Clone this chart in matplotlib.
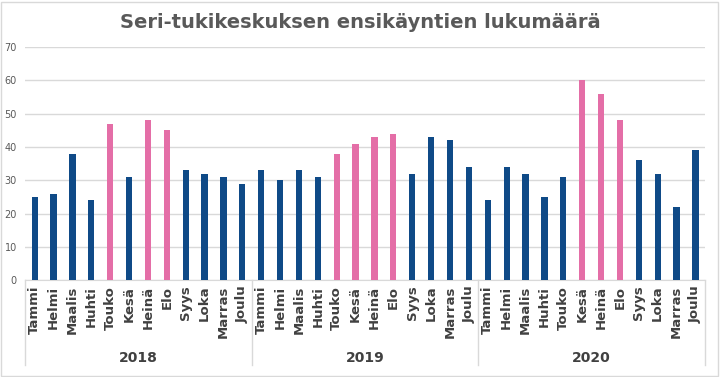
import matplotlib.pyplot as plt
from matplotlib.patches import Rectangle

# Data
months = ["Tammi", "Helmi", "Maalis", "Huhti", "Touko", "Kesä",
          "Heinä", "Elo", "Syys", "Loka", "Marras", "Joulu"]
years = ["2018", "2019", "2020"]
v2018 = [25, 26, 38, 24, 47, 31, 48, 45, 33, 32, 31, 29]
v2019 = [33, 30, 33, 31, 38, 41, 43, 44, 32, 43, 42, 34]
v2020 = [24, 34, 32, 25, 31, 60, 56, 48, 36, 32, 22, 39]
# months highlighted in pink per year
pink2018 = ["Touko", "Heinä", "Elo"]
pink2019 = ["Touko", "Kesä", "Heinä", "Elo"]
pink2020 = ["Kesä", "Heinä", "Elo"]

BLUE = "#0f4a87"
PINK = "#e46ea7"
GRID = "#d9d9d9"
TXT = "#595959"

values = v2018 + v2019 + v2020
pinks = [pink2018, pink2019, pink2020]
colors = []
for p in pinks:
    colors += [PINK if m in p else BLUE for m in months]

fig = plt.figure(figsize=(7.2, 3.77), dpi=100)
ax = fig.add_axes([0.035, 0.257, 0.944, 0.618])

x = list(range(len(values)))
ax.bar(x, values, width=0.33, color=colors, zorder=3)

ax.set_xlim(-0.5, len(values) - 0.5)
ax.set_ylim(0, 70)
ax.set_yticks(range(0, 71, 10))
ax.yaxis.grid(True, color=GRID, linewidth=1, zorder=0)
ax.tick_params(axis="y", length=0, labelsize=7, labelcolor=TXT, pad=6)

ax.set_xticks(x)
ax.set_xticklabels(months * 3, rotation=90, fontsize=9.5, fontweight="bold",
                   color="#404040")
ax.tick_params(axis="x", length=0, pad=4)

for s in ["top", "right", "left"]:
    ax.spines[s].set_visible(False)
ax.spines["bottom"].set_color(GRID)

# group separators and year labels under the axis
tr = ax.get_xaxis_transform()
for b in [-0.5, 11.5, 23.5, 35.5]:
    ax.plot([b, b], [0, -0.365], color=GRID, lw=1, transform=tr, clip_on=False)
for i, yr in enumerate(years):
    ax.text(i * 12 + 5.5, -0.335, yr, transform=tr, ha="center", va="center",
            fontsize=10, fontweight="bold", color="#404040")

fig.text(0.5, 0.94, "Seri-tukikeskuksen ensikäyntien lukumäärä",
         ha="center", va="center", fontsize=14, fontweight="bold", color=TXT)

# chart border
fig.patches.append(Rectangle((0.002, 0.003), 0.995, 0.993, transform=fig.transFigure,
                             fill=False, edgecolor=GRID, lw=1))

fig.savefig("out.png", dpi=100)
